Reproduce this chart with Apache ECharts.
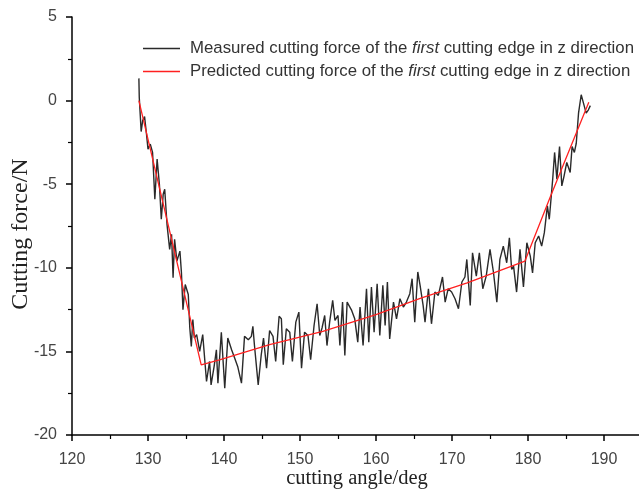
<!DOCTYPE html>
<html>
<head>
<meta charset="UTF-8">
<title>cutting force</title>
<script src="https://cdn.jsdelivr.net/npm/echarts@6/dist/echarts.min.js"></script>
<style type="text/css">
  html, body { margin: 0; padding: 0; background: #fff; }
  #chart { width: 639px; height: 492px; }
</style>
</head>
<body>
<div id="chart"></div>
<script>
// measured force (angle in deg, force in N)
var measuredAngle = [
  128.8, 128.85, 129.1, 129.3, 129.55, 129.8, 130.0, 130.3, 130.6, 130.9,
  131.2, 131.5, 131.75, 132.0, 132.2, 132.5, 132.85, 133.1, 133.3, 133.5,
  133.8, 134.2, 134.4, 134.6, 134.9, 135.3, 135.5, 135.7, 135.9, 136.1,
  136.4, 136.8, 137.2, 137.7, 138.1, 138.3, 138.7, 139.0, 139.2, 139.65,
  140.1, 140.5, 141.0, 141.4, 141.8, 142.3, 142.7, 143.2, 143.6, 143.8,
  144.0, 144.5, 144.9, 145.2, 145.6, 146.0, 146.45, 146.8, 147.25, 147.55,
  147.8, 148.2, 148.65, 149.0, 149.45, 149.85, 150.2, 150.6, 151.05, 151.4,
  151.85, 152.25, 152.6, 152.9, 153.25, 153.55, 153.9, 154.3, 154.6, 155.0,
  155.25, 155.6, 155.9, 156.2, 156.8, 157.2, 157.6, 157.9, 158.3, 158.75,
  159.05, 159.4, 159.75, 160.15, 160.5, 160.9, 161.2, 161.5, 161.8, 162.3,
  162.7, 163.15, 163.6, 164.0, 164.45, 164.75, 165.1, 165.5, 165.8, 166.2,
  166.45, 166.9, 167.3, 167.75, 168.2, 168.75, 169.1, 169.5, 169.95, 170.4,
  170.85, 171.3, 171.7, 171.95, 172.4, 172.7, 173.2, 173.6, 174.05, 174.5,
  175.0, 175.45, 175.9, 176.3, 176.75, 177.2, 177.55, 177.85, 178.1, 178.5,
  178.95, 179.4, 179.85, 180.3, 180.6, 180.95, 181.4, 181.8, 182.15, 182.55,
  182.8, 183.25, 183.5, 183.8, 184.15, 184.45, 184.75, 185.1, 185.55, 185.8,
  186.1, 186.35, 186.65, 187.0, 187.3, 187.65, 187.95, 188.2
];
var measuredForce = [
  1.33, 0.2, -1.85, -1.2, -0.95, -2.0, -2.9, -2.6, -3.1, -5.9,
  -3.5, -5.0, -7.1, -5.6, -5.3, -7.4, -8.9, -8.0, -10.6, -8.3,
  -9.6, -9.0, -10.3, -12.5, -11.0, -11.6, -13.6, -14.7, -13.1, -14.2,
  -14.0, -15.0, -14.0, -16.8, -15.6, -17.0, -15.9, -14.9, -16.9, -13.85,
  -17.2, -14.2, -14.9, -15.4, -15.9, -16.9, -14.1, -14.3, -14.1, -13.5,
  -14.6, -17.0, -15.2, -14.2, -16.0, -13.75, -14.1, -15.6, -12.9, -13.05,
  -15.8, -13.65, -13.85, -15.6, -13.25, -12.65, -16.0, -13.85, -14.05, -15.5,
  -13.45, -12.15, -14.05, -13.6, -12.85, -14.65, -13.25, -11.95, -13.15, -12.85,
  -14.65, -12.05, -15.25, -12.05, -12.55, -13.05, -14.45, -12.35, -14.65, -11.25,
  -14.45, -11.15, -13.85, -10.95, -14.05, -11.05, -13.45, -10.85, -14.25, -12.05,
  -13.05, -11.85, -12.35, -12.05, -11.55, -10.65, -13.25, -10.25, -11.05, -12.25,
  -13.25, -11.25, -13.35, -11.45, -11.65, -10.55, -12.05, -11.25, -11.45, -11.85,
  -12.45, -10.85, -10.55, -9.5, -12.25, -9.1, -10.5, -9.1, -11.25, -10.5,
  -8.9, -10.25, -12.05, -9.5, -8.7, -9.7, -8.2, -10.1, -9.9, -11.45,
  -8.9, -11.15, -8.5, -9.3, -10.3, -8.5, -8.1, -8.7, -7.9, -6.3,
  -7.1, -4.7, -3.1, -4.7, -2.75, -5.1, -4.5, -3.7, -4.3, -2.75,
  -3.1, -2.55, -0.75, 0.35, -0.15, -0.75, -0.55, -0.3
];

// predicted force (piecewise)
var predictedAngle = [128.8, 137.0, 139.4, 146.0, 153.0, 160.0, 166.0, 172.0, 179.6, 182.9, 188.0];
var predictedForce = [0.0, -15.8, -15.5, -14.6, -13.8, -12.8, -11.8, -10.9, -9.6, -5.8, -0.1];

var xTicks = { min: 120, max: 195, step: 10 };
var yTicks = { min: -20, max: 5, step: 5 };

function zip(a, b) {
  var out = [];
  for (var i = 0; i < a.length; i++) out.push([a[i], b[i]]);
  return out;
}

var legendText = {
  'Measured': '{n|Measured cutting force of the }{i|first}{n| cutting edge in z direction}',
  'Predicted': '{n|Predicted cutting force of the }{i|first}{n| cutting edge in z direction}'
};

var chart = echarts.init(document.getElementById('chart'));
var option = {
  animation: false,
  backgroundColor: '#fff',
  grid: { left: 72, right: -3, top: 17, bottom: 57, containLabel: false, outerBoundsMode: 'none' },
  legend: {
    orient: 'vertical',
    left: 143,
    top: 40,
    padding: 0,
    itemWidth: 37,
    itemHeight: 1.5,
    itemGap: 6,
    icon: 'rect',
    formatter: function (name) { return legendText[name]; },
    textStyle: {
      padding: [0, 0, 0, 5],
      rich: {
        n: { fontFamily: 'Liberation Sans', fontSize: 16.8, color: '#333' },
        i: { fontFamily: 'Liberation Sans', fontSize: 16.8, fontStyle: 'italic', color: '#333' }
      }
    },
    data: ['Measured', 'Predicted']
  },
  xAxis: {
    type: 'value',
    min: xTicks.min,
    max: xTicks.max,
    interval: xTicks.step,
    name: 'cutting angle/deg',
    nameLocation: 'middle',
    nameGap: 33,
    nameMoveOverlap: false,
    nameTextStyle: { fontFamily: 'Liberation Serif', fontSize: 20.5, color: '#222' },
    axisLine: { onZero: false, lineStyle: { color: '#000', width: 1.5 } },
    axisTick: { inside: false, length: 6, lineStyle: { color: '#000', width: 1.5 } },
    minorTick: { show: true, splitNumber: 2, length: 4, lineStyle: { color: '#000', width: 1.2 } },
    splitLine: { show: false },
    axisLabel: { margin: 17, showMaxLabel: false, fontFamily: 'Liberation Sans', fontSize: 16, color: '#444' }
  },
  yAxis: {
    type: 'value',
    min: yTicks.min,
    max: yTicks.max,
    interval: yTicks.step,
    name: 'Cutting force/N',
    nameLocation: 'middle',
    nameGap: 39,
    nameMoveOverlap: false,
    nameTextStyle: { fontFamily: 'Liberation Serif', fontSize: 24, color: '#222', padding: [0, 16, 0, 0] },
    axisLine: { onZero: false, lineStyle: { color: '#000', width: 1.5 } },
    axisTick: { inside: false, length: 6, lineStyle: { color: '#000', width: 1.5 } },
    minorTick: { show: true, splitNumber: 2, length: 4, lineStyle: { color: '#000', width: 1.2 } },
    splitLine: { show: false },
    axisLabel: { margin: 15, fontFamily: 'Liberation Sans', fontSize: 16, color: '#444' }
  },
  series: [
    {
      name: 'Measured',
      type: 'line',
      showSymbol: false,
      data: zip(measuredAngle, measuredForce),
      lineStyle: { color: '#2a2a2a', width: 1.4 },
      itemStyle: { color: '#2a2a2a' }
    },
    {
      name: 'Predicted',
      type: 'line',
      showSymbol: false,
      data: zip(predictedAngle, predictedForce),
      lineStyle: { color: '#ff2020', width: 1.3 },
      itemStyle: { color: '#ff2020' },
      z: 3
    }
  ]
};
chart.setOption(option);
</script>
</body>
</html>
